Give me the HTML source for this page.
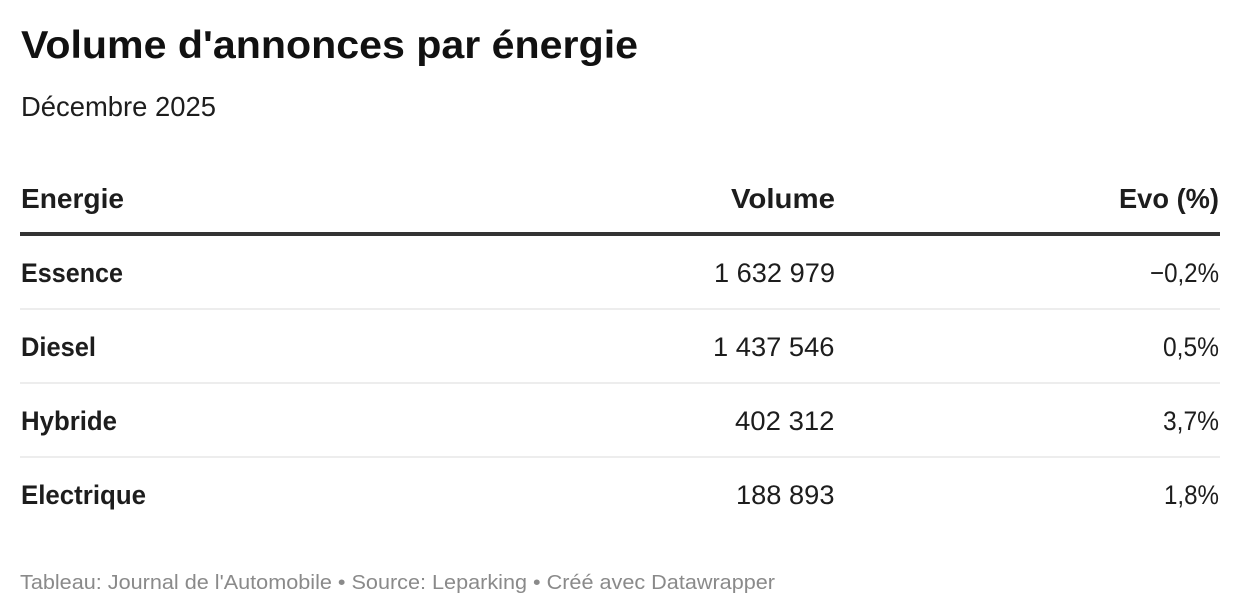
<!DOCTYPE html>
<html>
<head>
<meta charset="utf-8">
<style>
  html, body { margin:0; padding:0; background:#ffffff; }
  body { width:1240px; height:616px; overflow:hidden; }
  svg { display:block; }
  text { font-family: "Liberation Sans", Arial, sans-serif; }
  .b { font-weight:700; }
</style>
</head>
<body>
<svg width="1240" height="616" viewBox="0 0 1240 616" xmlns="http://www.w3.org/2000/svg">
  <rect x="0" y="0" width="1240" height="616" fill="#ffffff"/>

  <!-- Title -->
  <text class="b" x="21" y="58" font-size="39" fill="#111111" textLength="617" lengthAdjust="spacingAndGlyphs">Volume d'annonces par énergie</text>
  <!-- Subtitle -->
  <text x="21" y="116" font-size="28" fill="#1d1d1d" textLength="195" lengthAdjust="spacingAndGlyphs">Décembre 2025</text>

  <!-- Header -->
  <text class="b" x="21" y="208" font-size="28" fill="#1d1d1d" textLength="103" lengthAdjust="spacingAndGlyphs">Energie</text>
  <text class="b" x="731" y="208" font-size="28" fill="#1d1d1d" textLength="104" lengthAdjust="spacingAndGlyphs">Volume</text>
  <text class="b" x="1119" y="208" font-size="28" fill="#1d1d1d" textLength="100" lengthAdjust="spacingAndGlyphs">Evo (%)</text>

  <rect x="20" y="232" width="1200" height="4" fill="#333333"/>

  <!-- Row 1 -->
  <text class="b" x="21" y="282" font-size="27" fill="#1d1d1d" textLength="102" lengthAdjust="spacingAndGlyphs">Essence</text>
  <text x="714" y="282" font-size="27" fill="#1d1d1d" textLength="121" lengthAdjust="spacingAndGlyphs">1 632 979</text>
  <text x="1150" y="282" font-size="27" fill="#1d1d1d" textLength="69" lengthAdjust="spacingAndGlyphs">−0,2%</text>
  <rect x="20" y="308" width="1200" height="2" fill="#ededed"/>

  <!-- Row 2 -->
  <text class="b" x="21" y="356" font-size="27" fill="#1d1d1d" textLength="75" lengthAdjust="spacingAndGlyphs">Diesel</text>
  <text x="713" y="356" font-size="27" fill="#1d1d1d" textLength="121.5" lengthAdjust="spacingAndGlyphs">1 437 546</text>
  <text x="1163" y="356" font-size="27" fill="#1d1d1d" textLength="56" lengthAdjust="spacingAndGlyphs">0,5%</text>
  <rect x="20" y="382" width="1200" height="2" fill="#ededed"/>

  <!-- Row 3 -->
  <text class="b" x="21" y="430" font-size="27" fill="#1d1d1d" textLength="96" lengthAdjust="spacingAndGlyphs">Hybride</text>
  <text x="735" y="430" font-size="27" fill="#1d1d1d" textLength="99.5" lengthAdjust="spacingAndGlyphs">402 312</text>
  <text x="1163" y="430" font-size="27" fill="#1d1d1d" textLength="56" lengthAdjust="spacingAndGlyphs">3,7%</text>
  <rect x="20" y="456" width="1200" height="2" fill="#ededed"/>

  <!-- Row 4 -->
  <text class="b" x="21" y="504" font-size="27" fill="#1d1d1d" textLength="125" lengthAdjust="spacingAndGlyphs">Electrique</text>
  <text x="736" y="504" font-size="27" fill="#1d1d1d" textLength="98.5" lengthAdjust="spacingAndGlyphs">188 893</text>
  <text x="1164" y="504" font-size="27" fill="#1d1d1d" textLength="55" lengthAdjust="spacingAndGlyphs">1,8%</text>

  <!-- Footer -->
  <text x="20" y="589" font-size="20" fill="#8a8a8a" textLength="755" lengthAdjust="spacingAndGlyphs">Tableau: Journal de l'Automobile • Source: Leparking • Créé avec Datawrapper</text>
</svg>
</body>
</html>
